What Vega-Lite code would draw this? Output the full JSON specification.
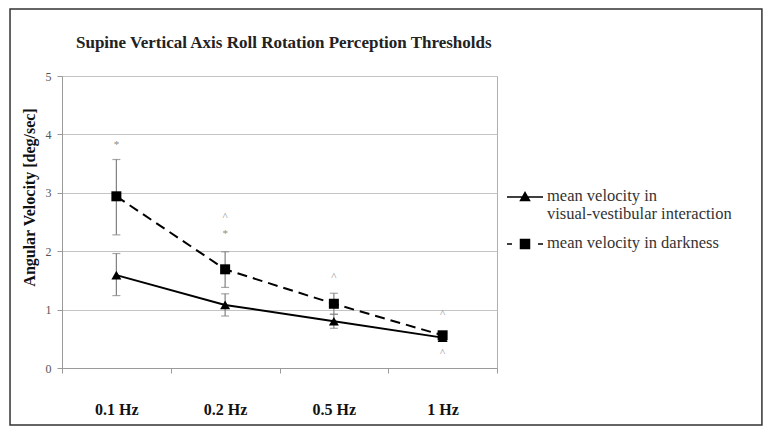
{
  "$schema": "https://vega.github.io/schema/vega-lite/v6.json",
  "width": 435,
  "height": 292,
  "padding": {"left": 9, "top": 8, "right": 5, "bottom": 8},
  "background": "white",
  "title": {
    "text": "Supine Vertical Axis Roll Rotation Perception Thresholds",
    "anchor": "start",
    "frame": "group",
    "dx": 14,
    "offset": -44,
    "font": "Liberation Serif",
    "fontSize": 17,
    "fontWeight": "bold",
    "color": "#222222"
  },
  "datasets": {
    "means": [
      {"freq": "0.1 Hz", "series": "mean velocity in visual-vestibular interaction", "mean": 1.59, "low": 1.24, "high": 1.96},
      {"freq": "0.2 Hz", "series": "mean velocity in visual-vestibular interaction", "mean": 1.08, "low": 0.89, "high": 1.27},
      {"freq": "0.5 Hz", "series": "mean velocity in visual-vestibular interaction", "mean": 0.80, "low": 0.68, "high": 0.92},
      {"freq": "1 Hz", "series": "mean velocity in visual-vestibular interaction", "mean": 0.52, "low": 0.48, "high": 0.56},
      {"freq": "0.1 Hz", "series": "mean velocity in darkness", "mean": 2.94, "low": 2.28, "high": 3.57},
      {"freq": "0.2 Hz", "series": "mean velocity in darkness", "mean": 1.69, "low": 1.38, "high": 1.99},
      {"freq": "0.5 Hz", "series": "mean velocity in darkness", "mean": 1.10, "low": 0.92, "high": 1.28},
      {"freq": "1 Hz", "series": "mean velocity in darkness", "mean": 0.56, "low": 0.50, "high": 0.61}
    ],
    "notes": [
      {"freq": "0.1 Hz", "pos": 3.82, "sym": "*"},
      {"freq": "0.2 Hz", "pos": 2.58, "sym": "^"},
      {"freq": "0.2 Hz", "pos": 2.29, "sym": "*"},
      {"freq": "0.5 Hz", "pos": 1.56, "sym": "^"},
      {"freq": "1 Hz", "pos": 0.92, "sym": "^"},
      {"freq": "1 Hz", "pos": 0.25, "sym": "^"}
    ]
  },
  "layer": [
    {
      "data": {"values": [{}]},
      "mark": {"type": "rect", "fillOpacity": 0, "stroke": "#333333", "strokeWidth": 1.5},
      "encoding": {
        "x": {"datum": -0.1195, "type": "quantitative", "scale": {"domain": [0, 1]}, "axis": null},
        "x2": {"datum": 1.609},
        "y": {"datum": -0.976, "type": "quantitative", "scale": {"domain": [0, 5], "nice": false}, "title": "Angular Velocity [deg/sec]", "axis": {"values": [0, 1, 2, 3, 4, 5], "titleY": 121}},
        "y2": {"datum": 6.147}
      }
    },
    {
      "layer": [
        {
          "data": {"name": "means"},
          "mark": {"type": "errorbar", "ticks": {"size": 8}, "color": "#808080", "thickness": 1.2},
          "encoding": {
            "x": {"field": "freq", "type": "nominal"},
            "y": {"field": "low", "type": "quantitative", "title": "Angular Velocity [deg/sec]"},
            "y2": {"field": "high"}
          }
        },
        {
          "data": {"name": "means"},
          "transform": [{"filter": "datum.series === 'mean velocity in visual-vestibular interaction'"}],
          "mark": {"type": "line", "color": "black", "strokeWidth": 2},
          "encoding": {
            "x": {"field": "freq", "type": "nominal"},
            "y": {"field": "mean", "type": "quantitative", "title": "Angular Velocity [deg/sec]"}
          }
        },
        {
          "data": {"name": "means"},
          "transform": [{"filter": "datum.series === 'mean velocity in darkness'"}],
          "mark": {"type": "line", "color": "black", "strokeWidth": 2, "strokeDash": [10, 6]},
          "encoding": {
            "x": {"field": "freq", "type": "nominal"},
            "y": {"field": "mean", "type": "quantitative", "title": "Angular Velocity [deg/sec]"}
          }
        },
        {
          "data": {"name": "means"},
          "mark": {"type": "point", "filled": true, "opacity": 1, "size": 100},
          "encoding": {
            "x": {"field": "freq", "type": "nominal"},
            "y": {"field": "mean", "type": "quantitative", "title": "Angular Velocity [deg/sec]"},
            "shape": {
              "condition": {"test": "datum.series === 'mean velocity in darkness'", "value": "square"},
              "value": "triangle-up"
            },
            "color": {
              "field": "series",
              "type": "nominal",
              "scale": {"domain": ["mean velocity in visual-vestibular interaction", "mean velocity in darkness"], "range": ["black", "black"]},
              "legend": {
                "orient": "none",
                "legendX": 452,
                "legendY": 110,
                "title": null,
                "symbolSize": 400,
                "labelOffset": 11,
                "labelFont": "Liberation Serif",
                "labelFontSize": 16.5,
                "labelColor": "#333333",
                "labelLimit": 400,
                "rowPadding": 10,
                "labelBaseline": "top",
                "labelExpr": "datum.value === 'mean velocity in visual-vestibular interaction' ? ['mean velocity in', 'visual-vestibular interaction'] : datum.value",
                "encoding": {
                  "symbols": {
                    "shape": {"value": {"expr": "datum.value === 'mean velocity in darkness' ? 'M-1.8,0H-1.3M1.3,0H1.8M-0.45,-0.45H0.45V0.45H-0.45Z' : 'M-1.8,0H1.8M-0.45,0.35L0,-0.45L0.45,0.35Z'"}},
                    "stroke": {"value": "black"},
                    "strokeWidth": {"value": 1.5},
                    "opacity": {"value": 1}
                  },
                  "labels": {"dy": {"value": -9}, "lineHeight": {"value": 18}}
                }
              }
            }
          }
        },
        {
          "data": {"name": "notes"},
          "mark": {"type": "text", "font": "Liberation Serif", "fontSize": 11, "color": "#8c8c8c", "baseline": "middle"},
          "encoding": {
            "x": {"field": "freq", "type": "nominal"},
            "y": {"field": "pos", "type": "quantitative", "title": "Angular Velocity [deg/sec]"},
            "text": {"field": "sym"}
          }
        }
      ],
      "encoding": {
        "x": {
          "field": "freq",
          "type": "nominal",
          "sort": ["0.1 Hz", "0.2 Hz", "0.5 Hz", "1 Hz"],
          "scale": {"type": "band", "paddingInner": 0, "paddingOuter": 0},
          "axis": {"tickBand": "extent", "labelAngle": 0, "title": null}
        },
        "y": {
          "type": "quantitative",
          "scale": {"domain": [0, 5], "nice": false},
          "axis": {"values": [0, 1, 2, 3, 4, 5], "titleY": 121}
        }
      }
    }
  ],
  "resolve": {"scale": {"x": "independent"}},
  "config": {
    "view": {"stroke": "#b0b0b0"},
    "axisY": {
      "grid": true,
      "gridColor": "#c4c4c4",
      "domainColor": "#9a9a9a",
      "tickColor": "#9a9a9a",
      "tickSize": 5,
      "labelFont": "Liberation Serif",
      "labelFontSize": 12,
      "labelColor": "#555555",
      "labelPadding": 6,
      "titleFont": "Liberation Serif",
      "titleFontSize": 16,
      "titleFontWeight": "bold",
      "titleColor": "#111111",
      "titlePadding": 8
    },
    "axisX": {
      "labelFont": "Liberation Serif",
      "labelFontSize": 16,
      "labelFontWeight": "bold",
      "labelColor": "#111111",
      "labelPadding": 28,
      "tickSize": 5,
      "tickColor": "#9a9a9a",
      "domainColor": "#9a9a9a",
      "grid": false
    }
  }
}
